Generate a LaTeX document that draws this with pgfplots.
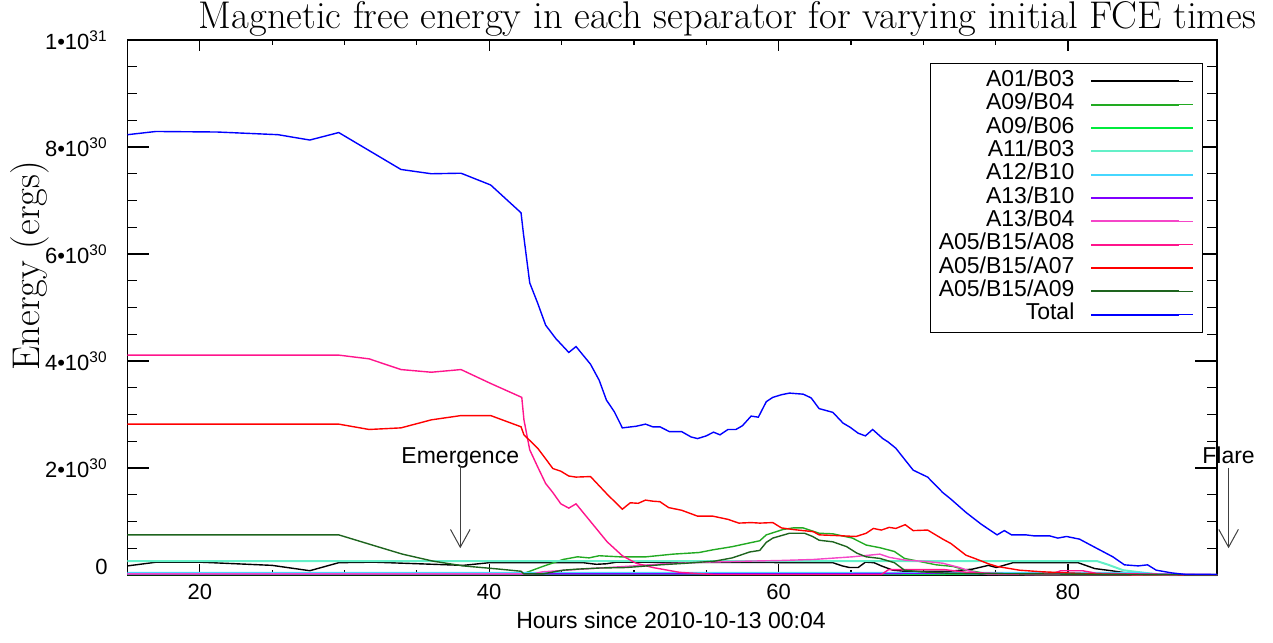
\documentclass[border=0pt]{standalone}
\usepackage{fontspec}
\usepackage{pgfplots}
\pgfplotsset{compat=1.18}
\usetikzlibrary{arrows.meta}
\newfontfamily\arial{Liberation Sans}
\definecolor{cA01}{RGB}{0,0,0}
\definecolor{cA09B04}{RGB}{34,170,34}
\definecolor{cA09B06}{RGB}{0,235,60}
\definecolor{cA11}{RGB}{100,240,200}
\definecolor{cA12}{RGB}{70,215,255}
\definecolor{cA13B10}{RGB}{128,0,255}
\definecolor{cA13B04}{RGB}{245,70,200}
\definecolor{cA08}{RGB}{255,20,140}
\definecolor{cA07}{RGB}{255,0,0}
\definecolor{cA09}{RGB}{30,100,30}
\definecolor{cTot}{RGB}{0,0,255}
\begin{document}
\begin{tikzpicture}
\begin{axis}[
  name=ax,
  scale only axis,
  width=544.75pt, height=267.5pt,
  xmin=15, xmax=90.3, ymin=0, ymax=10,
  clip=false,
  axis line style={line width=0.7pt},
  xtick={20,40,60,80},
  xticklabels={20,40,60,80},
  minor x tick num=3,
  ytick={0,2,4,6,8,10},
  yticklabels={\raisebox{8pt}{0},2\textbullet10\textsuperscript{30},4\textbullet10\textsuperscript{30},6\textbullet10\textsuperscript{30},8\textbullet10\textsuperscript{30},1\textbullet10\textsuperscript{31}},
  minor y tick num=3,
  tick align=inside,
  xtick style={black, line width=0.6pt, /pgfplots/major tick length=5.3pt, /pgfplots/minor tick length=2.5pt},
  ytick style={black, line width=0.6pt, /pgfplots/major tick length=10.8pt, /pgfplots/minor tick length=5pt},
  tick label style={font={\fontsize{11}{13}\selectfont\arial}},
  xticklabel style={anchor=base, yshift=-12.5pt},
  yticklabel style={anchor=east, inner sep=0pt, xshift=-9.75pt},
  every axis title shift=0pt,
  title={Magnetic free energy in each separator for varying initial FCE times},
  title style={at={(axis description cs:0.5507,1)}, anchor=base, yshift=5.75pt, inner sep=0pt, font={\fontsize{19.3}{22}\selectfont}},
  ylabel={Energy (ergs)},
  ylabel style={at={(axis description cs:-0.090,0.578)}, anchor=center, inner sep=0pt, font={\fontsize{19.3}{22}\selectfont}},
  xlabel={Hours since 2010-10-13 00:04},
  xlabel style={at={(axis description cs:0.4989,-0.1009)}, anchor=base, inner sep=0pt, font={\fontsize{11.5}{13}\selectfont\arial}},
  legend plot pos=right,
  legend cell align=right,
  legend image code/.code={\draw[#1, line width=1pt] (0pt,0pt) -- (44pt,0pt); \path (0pt,0pt) -- (51pt,0pt);},
  legend style={at={(0.9871,0.957)}, anchor=north east, draw=black, line width=0.6pt, fill=white,
    font={\fontsize{11.5}{13}\selectfont\arial}, inner xsep=4pt, inner ysep=3pt, row sep=0pt, column sep=8pt,
    nodes={inner sep=0pt, text height=8.4pt, text depth=3.27pt}},
  every axis plot/.append style={line width=0.7pt},
]
% A01/B03
\addplot[cA01] coordinates {(15,0.17) (17,0.24) (20,0.24) (25,0.18) (27.6,0.08) (29.6,0.23) (32,0.24) (38.2,0.18) (40,0.23) (46.5,0.23) (47.4,0.20) (48.1,0.21) (48.8,0.24) (63.75,0.23) (64.4,0.17) (64.9,0.14) (65.5,0.14) (66.0,0.24) (66.6,0.23) (67.1,0.17) (67.9,0.09) (68.7,0.07) (71.8,0.07) (73.4,0.11) (74.5,0.18) (75.05,0.14) (76.2,0.23) (80.7,0.23) (81.85,0.12) (83.0,0.08) (84.0,0.04) (85.0,0.01) (90.3,0.01)};
\addlegendentry{A01/B03}
% A09/B04
\addplot[cA09B04] coordinates {(15,0.01) (42.2,0.01) (43.7,0.16) (45.1,0.29) (46.1,0.34) (46.9,0.32) (47.6,0.36) (49.0,0.34) (50.85,0.34) (52.7,0.39) (54.5,0.42) (55.45,0.47) (56.8,0.53) (58.0,0.60) (58.7,0.64) (59.15,0.75) (60.3,0.85) (61.0,0.88) (61.7,0.88) (62.8,0.78) (63.75,0.77) (65.1,0.69) (66.05,0.56) (67.0,0.51) (68.0,0.44) (68.7,0.31) (69.8,0.25) (70.9,0.19) (72.05,0.16) (73.0,0.09) (74.1,0.04) (75.3,0.01) (90.3,0.0)};
\addlegendentry{A09/B04}
% A09/B06
\addplot[cA09B06] coordinates {(15,0.01) (42.2,0.01) (50,0.01) (70,0.01) (75,0.02) (85,0.02) (86,0.005) (90.3,0.005)};
\addlegendentry{A09/B06}
% A11/B03
\addplot[cA11, line width=1pt] coordinates {(15,0.26) (82.0,0.26) (82.8,0.19) (83.8,0.09) (85.0,0.05) (85.9,0.02) (87,0.0) (90.3,0.0)};
\addlegendentry{A11/B03}
% A12/B10
\addplot[cA12, line width=1pt] coordinates {(15,0.04) (85,0.04) (86,0.02) (87,0.01) (90.3,0.0)};
\addlegendentry{A12/B10}
% A13/B10
\addplot[cA13B10] coordinates {(15,0.02) (60,0.02) (72,0.03) (75,0.02) (90.3,0.01)};
\addlegendentry{A13/B10}
% A13/B04
\addplot[cA13B04] coordinates {(15,0.02) (43,0.02) (43.7,0.06) (47,0.12) (50,0.17) (52,0.21) (55,0.24) (58,0.26) (60,0.27) (62.4,0.29) (65.1,0.34) (67.0,0.39) (67.65,0.33) (68.7,0.28) (70.3,0.25) (71.35,0.22) (72.5,0.14) (73.4,0.06) (74.5,0.01) (90.3,0.0)};
\addlegendentry{A13/B04}
% A05/B15/A08
\addplot[cA08] coordinates {(15,4.11) (29.6,4.11) (31.7,4.04) (33.9,3.84) (36.0,3.79) (38.05,3.84) (40.1,3.58) (42.25,3.32) (42.4,2.90) (42.8,2.34) (43.35,2.02) (43.9,1.71) (44.4,1.54) (44.95,1.33) (45.5,1.25) (46.0,1.33) (47.0,1.00) (48.15,0.62) (49.2,0.36) (50.15,0.22) (51.3,0.14) (53.15,0.05) (55.45,0.01) (67.1,0.01) (67.6,0.10) (71.5,0.10) (73.0,0.05) (76,0.02) (79.0,0.03) (79.5,0.08) (81.0,0.08) (82,0.03) (90.3,0.0)};
\addlegendentry{A05/B15/A08}
% A05/B15/A07
\addplot[cA07] coordinates {(15,2.82) (29.6,2.82) (31.7,2.72) (33.9,2.75) (36.0,2.90) (38.05,2.98) (40.1,2.98) (42.2,2.77) (42.4,2.62) (43.35,2.37) (44.4,1.99) (44.95,1.94) (45.5,1.85) (46.0,1.83) (47.0,1.84) (48.15,1.51) (49.2,1.23) (49.75,1.35) (50.3,1.34) (50.8,1.40) (51.3,1.38) (51.8,1.37) (52.4,1.26) (53.3,1.21) (54.4,1.10) (55.45,1.10) (56.5,1.04) (57.25,0.97) (58.1,0.98) (58.7,0.97) (59.6,0.98) (60.2,0.88) (61.0,0.85) (62.4,0.81) (62.8,0.75) (63.75,0.74) (65.35,0.72) (66.05,0.78) (66.55,0.87) (67.1,0.84) (67.65,0.89) (68.1,0.87) (68.75,0.94) (69.3,0.83) (70.3,0.84) (71.35,0.67) (71.9,0.59) (72.95,0.37) (73.55,0.31) (74.5,0.21) (75.1,0.16) (76.65,0.09) (78.2,0.06) (79.9,0.04) (81.7,0.02) (83,0.01) (90.3,0.0)};
\addlegendentry{A05/B15/A07}
% A05/B15/A09
\addplot[cA09] coordinates {(15,0.75) (29.6,0.75) (32.4,0.52) (34.0,0.39) (36.1,0.26) (38.2,0.17) (40.7,0.11) (42.2,0.07) (42.4,0.02) (43.7,0.02) (45.1,0.09) (46.1,0.11) (47.6,0.13) (49.5,0.14) (51.8,0.19) (53.6,0.22) (55.6,0.26) (56.8,0.32) (58.0,0.43) (58.7,0.46) (59.15,0.61) (59.6,0.69) (60.75,0.78) (61.8,0.78) (62.35,0.72) (62.8,0.65) (63.75,0.62) (64.7,0.53) (65.4,0.41) (66.05,0.34) (67.0,0.31) (68.0,0.23) (68.7,0.09) (69.8,0.06) (72,0.03) (90.3,0.0)};
\addlegendentry{A05/B15/A09}
% Total
\addplot[cTot] coordinates {(15,8.23) (16.96,8.29) (21.2,8.28) (25.4,8.23) (27.6,8.13) (29.6,8.27) (33.9,7.58) (36.0,7.50) (38.05,7.51) (40.1,7.29) (42.2,6.77) (42.36,6.39) (42.8,5.46) (43.35,5.08) (43.9,4.67) (44.6,4.42) (45.5,4.16) (46.0,4.27) (47.0,3.94) (47.6,3.64) (48.1,3.27) (48.65,3.05) (49.2,2.75) (50.15,2.78) (50.8,2.82) (51.3,2.77) (51.8,2.77) (52.45,2.68) (53.3,2.68) (53.95,2.58) (54.4,2.55) (55.0,2.60) (55.5,2.67) (55.95,2.62) (56.5,2.72) (57.05,2.72) (57.5,2.79) (58.1,2.97) (58.6,2.95) (59.15,3.24) (59.6,3.32) (60.2,3.37) (60.75,3.40) (61.7,3.38) (62.25,3.31) (62.8,3.11) (63.75,3.04) (64.45,2.84) (64.95,2.76) (65.5,2.65) (66.0,2.60) (66.5,2.72) (67.2,2.55) (67.55,2.49) (68.1,2.37) (69.3,1.96) (70.3,1.83) (71.35,1.54) (71.9,1.42) (72.95,1.17) (74.0,0.95) (75.1,0.75) (75.6,0.83) (76.1,0.75) (77.1,0.75) (77.7,0.73) (78.75,0.73) (79.3,0.69) (79.9,0.72) (80.8,0.67) (81.7,0.54) (83.1,0.34) (83.9,0.19) (84.85,0.17) (85.5,0.19) (86.1,0.09) (87.15,0.04) (88.1,0.01) (90.3,0.01)};
\addlegendentry{Total}
% annotations
\node[anchor=base, font={\fontsize{11.5}{13}\selectfont\arial}, inner sep=0pt] at (axis cs:38.0,2.09) {Emergence};
\draw[black!75, line width=0.5pt, -{Straight Barb[length=8.9pt, width=9.8pt]}] (axis cs:38.0,2.03) -- (axis cs:38.0,0.50);
\node[anchor=base, font={\fontsize{11.5}{13}\selectfont\arial}, inner sep=0pt] at (axis cs:91.1,2.09) {Flare};
\draw[black!75, line width=0.5pt, -{Straight Barb[length=8.9pt, width=9.8pt]}] (axis cs:91.1,2.0) -- (axis cs:91.1,0.50);
\end{axis}
\path ([shift={(-63.75pt,-33.5pt)}]ax.south west) rectangle ([shift={(28pt,20pt)}]ax.north east);
\end{tikzpicture}
\end{document}
